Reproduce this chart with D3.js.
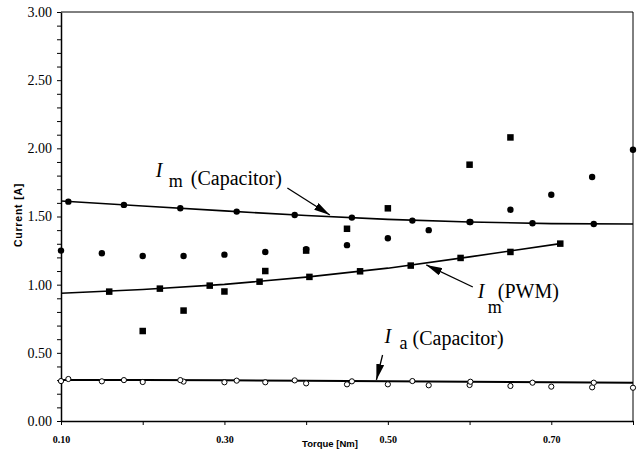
<!DOCTYPE html>
<html>
<head>
<meta charset="utf-8">
<script src="https://cdn.jsdelivr.net/npm/d3@7"></script>
<style>
  body { margin: 0; background: #fff; }
  svg { display: block; }
</style>
</head>
<body>
<div id="chart"></div>
<script>
// Messwerte (Scatter), Schritt 0.05 Nm
const torqueScatter = [0.10, 0.15, 0.20, 0.25, 0.30, 0.35, 0.40, 0.45, 0.50, 0.55, 0.60, 0.65, 0.70, 0.75, 0.80];
const imCapScatter = [1.25, 1.23, 1.21, 1.21, 1.22, 1.24, 1.26, 1.29, 1.34, 1.40, 1.46, 1.55, 1.66, 1.79, 1.99];
const iaCapScatter = [0.293, 0.291, 0.286, 0.289, 0.284, 0.284, 0.276, 0.269, 0.269, 0.262, 0.264, 0.257, 0.252, 0.247, 0.244];

const torquePwmScatter = [0.20, 0.25, 0.30, 0.35, 0.40, 0.45, 0.50, 0.60, 0.65];
const imPwmScatter = [0.66, 0.81, 0.95, 1.10, 1.25, 1.41, 1.56, 1.88, 2.08];

// Punkte auf den Kurven
const torqueCapFit = [0.109, 0.177, 0.246, 0.315, 0.386, 0.456, 0.530, 0.601, 0.677, 0.752];
const imCapFit = [1.609, 1.585, 1.560, 1.536, 1.511, 1.492, 1.470, 1.460, 1.450, 1.445];
const iaCapFit = [0.308, 0.300, 0.300, 0.296, 0.298, 0.291, 0.293, 0.288, 0.281, 0.281];

const torquePwmFit = [0.159, 0.221, 0.282, 0.343, 0.404, 0.466, 0.528, 0.589, 0.650, 0.711];
const imPwmFit = [0.949, 0.971, 0.993, 1.022, 1.057, 1.098, 1.140, 1.196, 1.240, 1.301];

// Trendlinien
const trendTorque = [0.10, 0.20, 0.30, 0.40, 0.50, 0.60, 0.70, 0.80];
const imCapTrend = [1.614, 1.577, 1.541, 1.507, 1.479, 1.460, 1.448, 1.445];
const iaCapTrend = [0.301, 0.300, 0.298, 0.295, 0.292, 0.288, 0.284, 0.281];
const pwmTrendTorque = [0.10, 0.20, 0.30, 0.40, 0.50, 0.60, 0.711];
const imPwmTrend = [0.937, 0.964, 1.002, 1.055, 1.121, 1.204, 1.301];

// Achsen
const xTicks = [0.1, 0.2, 0.3, 0.4, 0.5, 0.6, 0.7, 0.8];
const xLabels = [0.1, 0.3, 0.5, 0.7];
const yTicks = d3.range(0, 31).map(i => i / 10);
const yLabels = [0, 0.5, 1, 1.5, 2, 2.5, 3];

// Beschriftungen mit Pfeil (Datenkoordinaten)
const annotations = [
    {main: "I", sub: "m", rest: "(Capacitor)", x: 0.216, y: 1.790, subDx: 13, subDy: 10, restDx: 35, restDy: 8,
     tail: [0.377, 1.709], tip: [0.429, 1.511]},
    {main: "I", sub: "m", rest: "(PWM)", x: 0.610, y: 0.902, subDx: 10, subDy: 15, restDx: 20, restDy: 0,
     tail: [0.604, 0.983], tip: [0.547, 1.145]},
    {main: "I", sub: "a", rest: "(Capacitor)", x: 0.496, y: 0.572, subDx: 15, subDy: 6, restDx: 28, restDy: 2,
     tail: [0.4935, 0.484], tip: [0.486, 0.301]}
];

const serif = "'Liberation Serif', 'Times New Roman', Times, serif";
const sans = "'Liberation Sans', Arial, Helvetica, sans-serif";

const width = 637, height = 451;
const margin = {top: 12, right: 4, bottom: 30, left: 61};

const svg = d3.select("#chart").append("svg")
    .attr("width", width)
    .attr("height", height);

const x = d3.scaleLinear().domain([0.10, 0.80]).range([margin.left, width - margin.right]);
const y = d3.scaleLinear().domain([0, 3]).range([height - margin.bottom, margin.top]);

// Rahmen oben und rechts
svg.append("path")
    .attr("d", `M${x(0.10)},${y(3)}H${x(0.80)}V${y(0)}`)
    .attr("fill", "none")
    .attr("stroke", "#000")
    .attr("stroke-width", 1);

// y-Achse
const yAxis = svg.append("g")
    .attr("transform", `translate(${x(0.10)},0)`)
    .call(d3.axisLeft(y)
        .tickValues(yTicks)
        .tickSize(4)
        .tickSizeOuter(0)
        .tickPadding(5)
        .tickFormat(d => yLabels.some(v => Math.abs(v - d) < 1e-6) ? d3.format(".2f")(d) : ""))
    .attr("font-family", serif)
    .attr("font-size", 14);
yAxis.select(".domain").attr("stroke-width", 1.5);
yAxis.selectAll("text").attr("fill", "#000");

// x-Achse
const xAxis = svg.append("g")
    .attr("transform", `translate(0,${y(0)})`)
    .call(d3.axisBottom(x)
        .tickValues(xTicks)
        .tickSize(4)
        .tickSizeOuter(0)
        .tickPadding(11)
        .tickFormat(d => xLabels.some(v => Math.abs(v - d) < 1e-6) ? d3.format(".2f")(d) : ""))
    .attr("font-family", serif)
    .attr("font-size", 10)
    .attr("font-weight", "bold");
xAxis.select(".domain").attr("stroke-width", 1.5);
xAxis.selectAll("text").attr("fill", "#000");

// Achsentitel
svg.append("text")
    .attr("x", 330)
    .attr("y", 447)
    .attr("text-anchor", "middle")
    .style("font-family", sans)
    .style("font-size", "9.5px")
    .style("font-weight", "bold")
    .text("Torque [Nm]");

svg.append("text")
    .attr("transform", "translate(22,215) rotate(-90)")
    .attr("text-anchor", "middle")
    .style("font-family", sans)
    .style("font-size", "10.5px")
    .style("font-weight", "bold")
    .style("letter-spacing", "0.8px")
    .text("Current [A]");

// Trendlinien
const line = d3.line().x(d => x(d[0])).y(d => y(d[1]));
const trends = [
    {xs: trendTorque, ys: imCapTrend, w: 1.6},
    {xs: trendTorque, ys: iaCapTrend, w: 2},
    {xs: pwmTrendTorque, ys: imPwmTrend, w: 1.6}
];
svg.selectAll(".trend")
    .data(trends)
    .join("path")
    .attr("class", "trend")
    .attr("d", t => line(d3.zip(t.xs, t.ys)))
    .attr("fill", "none")
    .attr("stroke", "#000")
    .attr("stroke-width", t => t.w);

// Gefüllte Kreise
const filledCircles = d3.zip(torqueScatter, imCapScatter).concat(d3.zip(torqueCapFit, imCapFit));
svg.selectAll(".dot")
    .data(filledCircles)
    .join("circle")
    .attr("class", "dot")
    .attr("cx", d => x(d[0]))
    .attr("cy", d => y(d[1]))
    .attr("r", 3.2)
    .attr("fill", "#000");

// Quadrate
const squares = d3.zip(torquePwmScatter, imPwmScatter).concat(d3.zip(torquePwmFit, imPwmFit));
const sq = 6.5;
svg.selectAll(".sq")
    .data(squares)
    .join("rect")
    .attr("class", "sq")
    .attr("x", d => x(d[0]) - sq / 2)
    .attr("y", d => y(d[1]) - sq / 2)
    .attr("width", sq)
    .attr("height", sq)
    .attr("fill", "#000");

// Offene Kreise (I_a)
const openCircles = d3.zip(torqueScatter, iaCapScatter).concat(d3.zip(torqueCapFit, iaCapFit));
svg.selectAll(".odot")
    .data(openCircles)
    .join("circle")
    .attr("class", "odot")
    .attr("cx", d => x(d[0]))
    .attr("cy", d => y(d[1]))
    .attr("r", 2.6)
    .attr("fill", "#fff")
    .attr("stroke", "#000")
    .attr("stroke-width", 1);

// Pfeilspitze
svg.append("defs").append("marker")
    .attr("id", "arrow")
    .attr("markerUnits", "userSpaceOnUse")
    .attr("markerWidth", 16)
    .attr("markerHeight", 8)
    .attr("refX", 16)
    .attr("refY", 4)
    .attr("orient", "auto")
    .append("path")
    .attr("d", "M0,0L16,4L0,8Z")
    .attr("fill", "#000");

svg.selectAll(".arrow")
    .data(annotations)
    .join("line")
    .attr("class", "arrow")
    .attr("x1", d => x(d.tail[0]))
    .attr("y1", d => y(d.tail[1]))
    .attr("x2", d => x(d.tip[0]))
    .attr("y2", d => y(d.tip[1]))
    .attr("stroke", "#000")
    .attr("stroke-width", 1.3)
    .attr("marker-end", "url(#arrow)");

// Texte
const labels = svg.selectAll(".label")
    .data(annotations)
    .join("g")
    .attr("class", "label")
    .attr("transform", d => `translate(${x(d.x)},${y(d.y)})`)
    .style("font-family", serif);

labels.append("text")
    .style("font-size", "20px")
    .style("font-style", "italic")
    .text(d => d.main);
labels.append("text")
    .attr("x", d => d.subDx)
    .attr("y", d => d.subDy)
    .style("font-size", "18px")
    .text(d => d.sub);
labels.append("text")
    .attr("x", d => d.restDx)
    .attr("y", d => d.restDy)
    .style("font-size", "20px")
    .text(d => d.rest);
</script>
</body>
</html>
